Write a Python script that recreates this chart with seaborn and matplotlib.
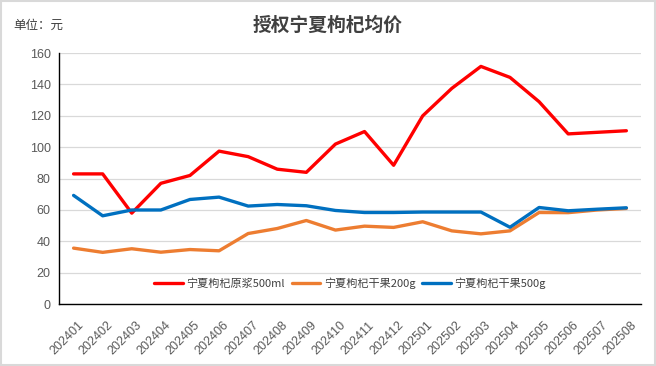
import matplotlib
matplotlib.use("Agg")
import matplotlib.pyplot as plt
import matplotlib.transforms as mtrans
import seaborn as sns
import pandas as pd
from matplotlib.patches import Rectangle

months = ["202401","202402","202403","202404","202405","202406","202407","202408","202409","202410",
          "202411","202412","202501","202502","202503","202504","202505","202506","202507","202508"]
puree_500ml = [83, 83, 58, 77, 82, 97.5, 94, 86, 84, 102, 110, 88.5, 120, 137.5, 151.5, 144.5, 129, 108.5, 109.5, 110.5]
dried_200g = [35.7, 33, 35.3, 33.1, 34.8, 34, 45, 48.2, 53.3, 47.2, 49.7, 48.9, 52.5, 46.7, 44.8, 46.7, 58.4, 58.3, 60, 61]
dried_500g = [69.3, 56.3, 60, 60, 66.7, 68.2, 62.5, 63.5, 62.7, 59.7, 58.4, 58.4, 58.7, 58.7, 58.7, 49, 61.6, 59.5, 60.5, 61.4]
series_names = ["宁夏枸杞原浆500ml", "宁夏枸杞干果200g", "宁夏枸杞干果500g"]
colors = ["#FF0000", "#ED7D31", "#0070C0"]

df = pd.concat([
    pd.DataFrame({"month": months, "price": vals, "series": name})
    for name, vals in zip(series_names, [puree_500ml, dried_200g, dried_500g])
], ignore_index=True)

sns.set_theme(style="white")
plt.rcParams['font.family'] = ['Noto Sans CJK SC', 'DejaVu Sans']

fig = plt.figure(figsize=(6.56, 3.66), dpi=100)
ax = fig.add_axes([0.09, 0.169, 0.887, 0.686])

sns.lineplot(data=df, x="month", y="price", hue="series", hue_order=series_names,
             palette=colors, sort=False, linewidth=2.4, ax=ax)

ax.set_xlim(-0.5, len(months) - 0.5)
ax.set_ylim(0, 160)
ax.set_yticks(range(0, 161, 20))
ax.yaxis.grid(True, color="#D9D9D9", linewidth=0.9)
ax.set_axisbelow(True)
ax.set_xlabel("")
ax.set_ylabel("")
for s in ["top", "right"]:
    ax.spines[s].set_visible(False)
for s in ["left", "bottom"]:
    ax.spines[s].set_color("black")
    ax.spines[s].set_linewidth(1.0)

ax.set_xticks(range(len(months)))
ax.set_xticklabels(months, rotation=45, ha="right", va="top", rotation_mode="anchor",
                   fontsize=9, color="#595959", family=["Liberation Sans"])
ax.tick_params(axis="x", length=0, pad=11)
shift = mtrans.ScaledTranslation(4 / 100, 0, fig.dpi_scale_trans)
for lab in ax.get_xticklabels():
    lab.set_transform(lab.get_transform() + shift)
# minor ticks between categories
ax.set_xticks([i - 0.5 for i in range(len(months) + 1)], minor=True)
ax.tick_params(axis="x", which="minor", direction="in", length=4, color="black", width=1)
ax.tick_params(axis="y", length=4, direction="out", color="black", labelsize=9, labelcolor="#595959", pad=2)
for lab in ax.get_yticklabels():
    lab.set_family(["Liberation Sans"])

leg = ax.legend(loc="center", bbox_to_anchor=(0.5, 0.085), ncol=3, frameon=False,
                fontsize=8, handlelength=2.6, columnspacing=0.6, handletextpad=0.3)
for t in leg.get_texts():
    t.set_color("#404040")

fig.text(0.5, 0.93, "授权宁夏枸杞均价", ha="center", va="center", fontsize=13.5,
         fontweight="bold", color="#404040")
fig.text(0.021, 0.93, "单位：元", ha="left", va="center", fontsize=9, color="#404040")

fig.patches.append(Rectangle((0.001, 0.002), 0.997, 0.995, transform=fig.transFigure,
                             fill=False, edgecolor="#D9D9D9", linewidth=1.5))

fig.savefig("out.png", dpi=100)
